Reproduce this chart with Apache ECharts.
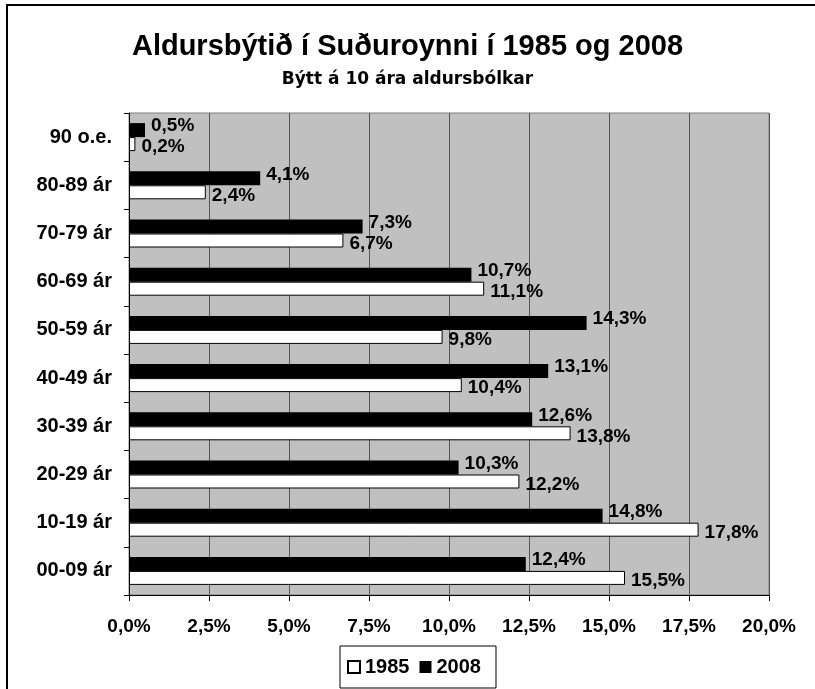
<!DOCTYPE html>
<html>
<head>
<meta charset="utf-8">
<script src="https://cdn.jsdelivr.net/npm/echarts@6/dist/echarts.min.js"></script>
<style>
  html, body { margin: 0; padding: 0; background: #fff; }
  #chart { width: 815px; height: 689px; }
</style>
</head>
<body>
<div id="chart"></div>
<script>
// aldursbólkar, frá botni til topps
var categories = ['00-09 ár', '10-19 ár', '20-29 ár', '30-39 ár', '40-49 ár',
                  '50-59 ár', '60-69 ár', '70-79 ár', '80-89 ár', '90 o.e.'];
var values1985 = [15.5, 17.8, 12.2, 13.8, 10.4, 9.8, 11.1, 6.7, 2.4, 0.2];
var values2008 = [12.4, 14.8, 10.3, 12.6, 13.1, 14.3, 10.7, 7.3, 4.1, 0.5];
var xTicks = [0, 2.5, 5, 7.5, 10, 12.5, 15, 17.5, 20];

var font = 'Liberation Sans, Arial, sans-serif';

function pct(v) {
    return v.toFixed(1).replace('.', ',') + '%';
}

var myChart = echarts.init(document.getElementById('chart'));

var option = {
    backgroundColor: '#fff',
    animation: false,
    title: [
        {
            text: 'Aldursbýtið í Suðuroynni í 1985 og 2008',
            left: 'center',
            top: 32,
            padding: 0,
            textStyle: {fontFamily: font, fontSize: 29, fontWeight: 'bold', color: '#000'}
        },
        {
            text: 'Býtt á 10 ára aldursbólkar',
            left: 'center',
            top: 71,
            padding: 0,
            textStyle: {fontFamily: 'DejaVu Sans', fontSize: 17, fontWeight: 'bold', color: '#000'}
        }
    ],
    legend: {
        data: ['1985', '2008'],
        left: 340,
        top: 646,
        padding: [11, 15, 11, 7],
        itemWidth: 12,
        itemHeight: 12,
        itemGap: 10,
        icon: 'rect',
        borderColor: '#000',
        borderWidth: 1,
        textStyle: {fontFamily: font, fontSize: 20, fontWeight: 'bold', color: '#000'}
    },
    grid: {
        left: 129,
        right: 46,
        top: 113,
        bottom: 94,
        show: true,
        backgroundColor: '#c0c0c0',
        borderColor: '#808080',
        borderWidth: 1
    },
    xAxis: {
        type: 'value',
        min: 0,
        max: 20,
        interval: 2.5,
        axisLine: {show: true, lineStyle: {color: '#000', width: 1}},
        axisTick: {show: true, length: 6, lineStyle: {color: '#000'}},
        splitLine: {show: true, lineStyle: {color: '#555', width: 1}},
        axisLabel: {
            margin: 22,
            fontFamily: font, fontSize: 19, fontWeight: 'bold', color: '#000',
            formatter: function (v) { return pct(v); }
        }
    },
    yAxis: {
        type: 'category',
        data: categories,
        axisLine: {show: true, lineStyle: {color: '#000', width: 1}},
        axisTick: {show: true, length: 5, lineStyle: {color: '#000'}},
        splitLine: {show: false},
        axisLabel: {
            margin: 17,
            fontFamily: font, fontSize: 20, fontWeight: 'bold', color: '#000'
        }
    },
    series: [
        {
            name: '2008',
            type: 'bar',
            data: values2008,
            barWidth: 14,
            barGap: '0%',
            itemStyle: {color: '#000'},
            label: {
                show: true,
                position: 'right',
                distance: 6,
                offset: [0, -4],
                fontFamily: font, fontSize: 19, fontWeight: 'bold', color: '#000',
                formatter: function (p) { return pct(p.value); }
            }
        },
        {
            name: '1985',
            type: 'bar',
            data: values1985,
            barWidth: 14,
            barGap: '0%',
            itemStyle: {color: '#fff', borderColor: '#000', borderWidth: 1},
            label: {
                show: true,
                position: 'right',
                distance: 6,
                offset: [0, 3],
                fontFamily: font, fontSize: 19, fontWeight: 'bold', color: '#000',
                formatter: function (p) { return pct(p.value); }
            }
        }
    ],
    graphic: [
        {
            type: 'polyline',
            shape: {points: [[7, 689], [7, 5], [815, 5]]},
            style: {stroke: '#000', lineWidth: 2, fill: null}
        }
    ]
};

myChart.setOption(option);
</script>
</body>
</html>
